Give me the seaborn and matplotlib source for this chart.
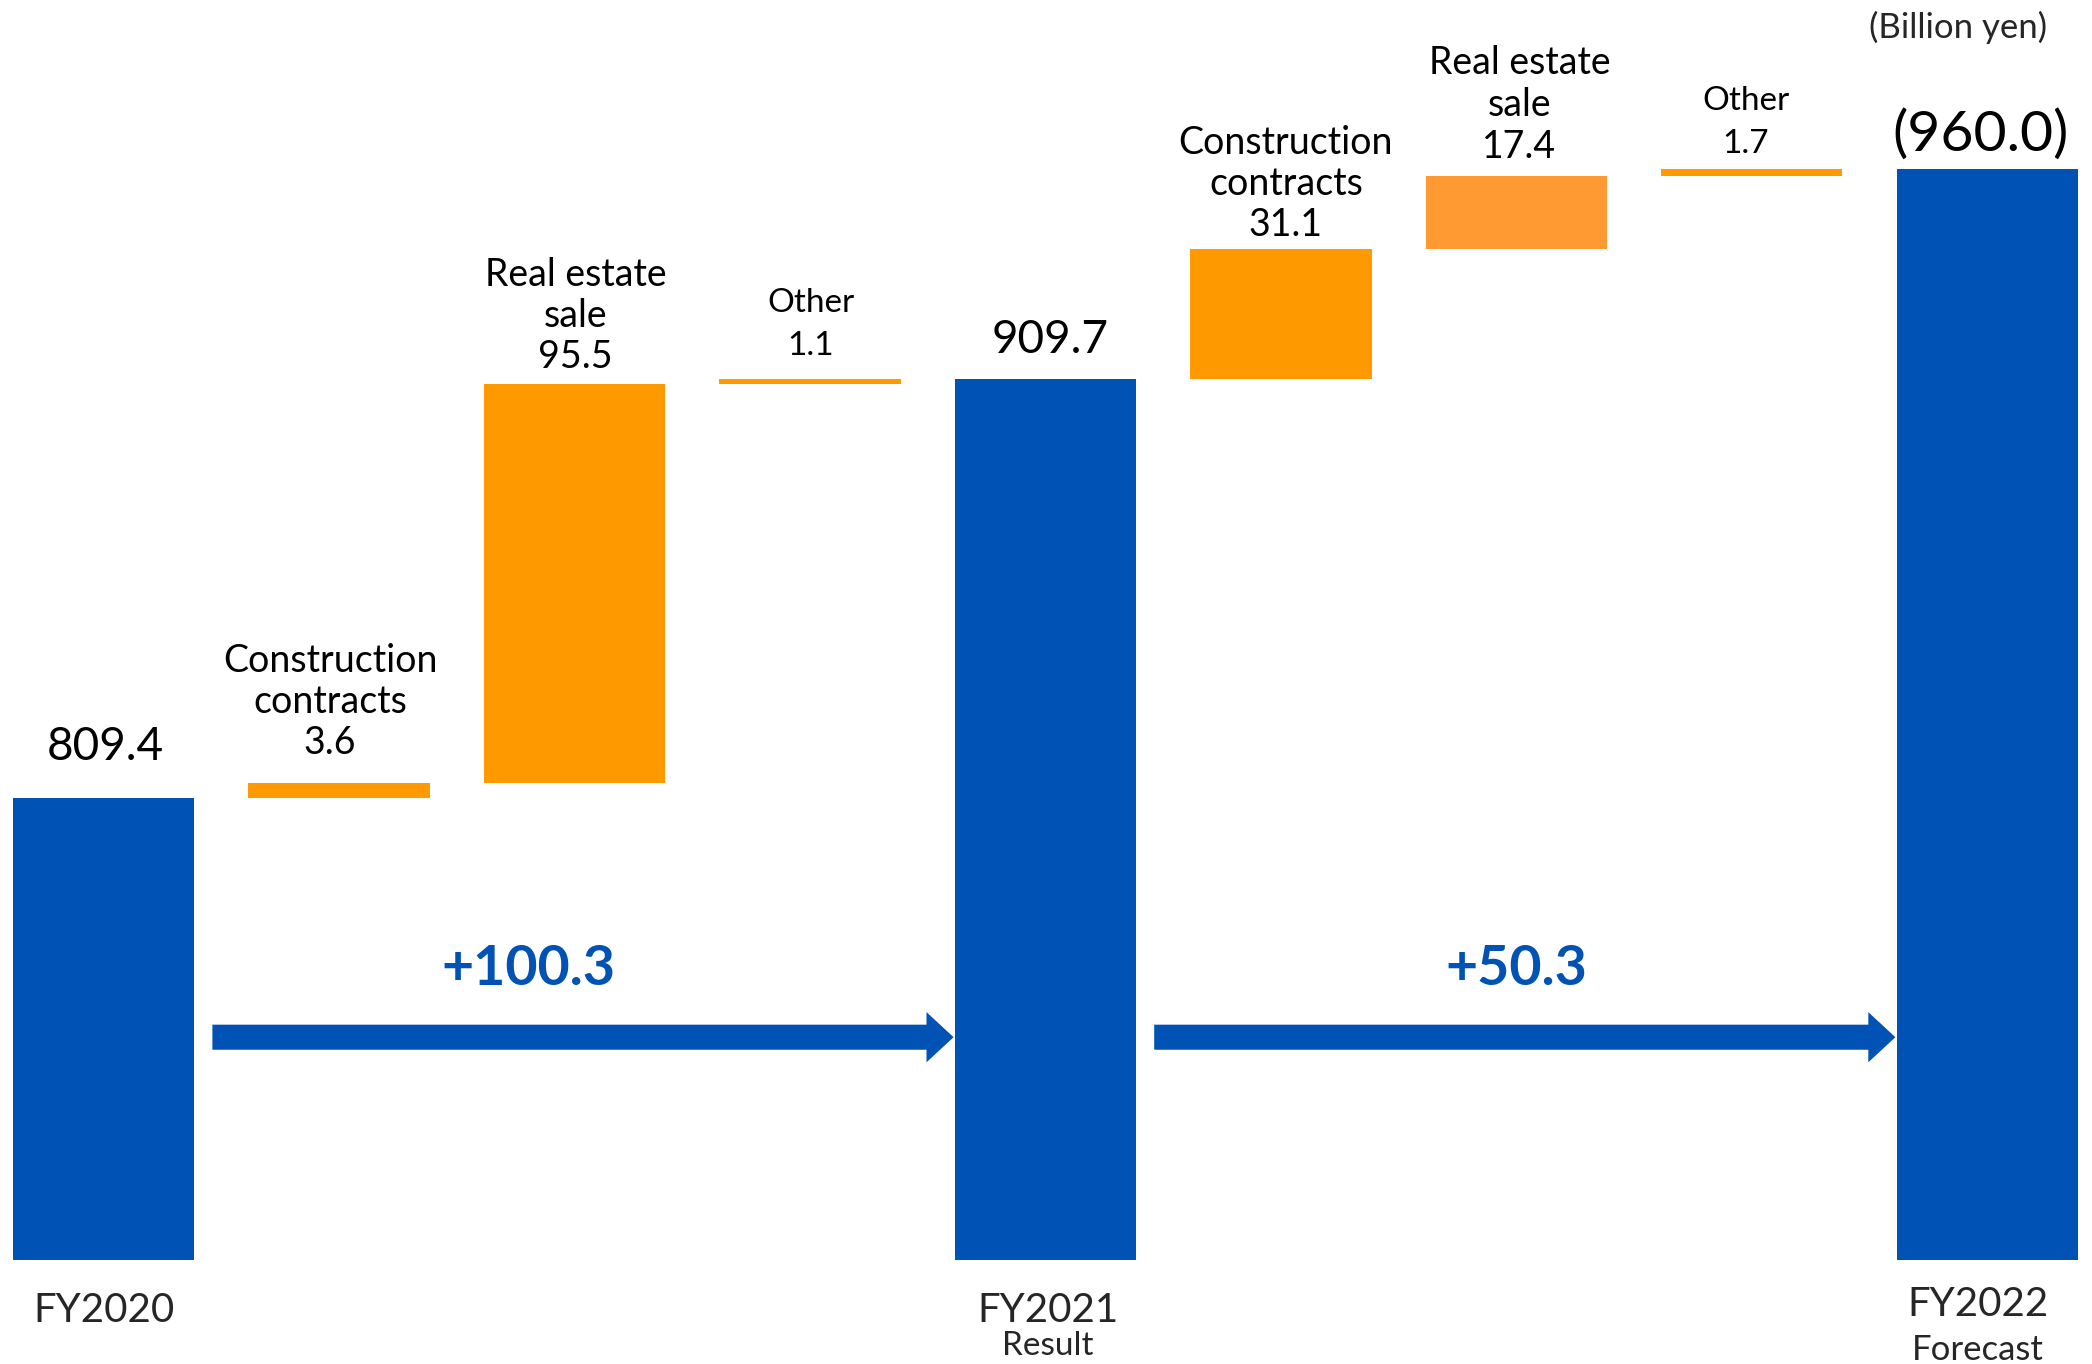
import matplotlib
matplotlib.use("Agg")
import matplotlib.pyplot as plt
import matplotlib.transforms as mtransforms
from matplotlib.patches import FancyArrow
import pandas as pd
import seaborn as sns

# Net sales bridge (billion yen)
total_names = ["FY2020", "FY2021", "FY2022"]
total_notes = ["", "Result", "Forecast"]
total_values = [809.4, 909.7, 960.0]
fy21_items = ["Construction\ncontracts", "Real estate\nsale", "Other"]
fy21_changes = [3.6, 95.5, 1.1]
fy22_items = ["Construction\ncontracts", "Real estate\nsale", "Other"]
fy22_changes = [31.1, 17.4, 1.7]
unit_text = "(Billion yen)"
axis_floor = 699.0

BLUE = "#0052B4"
ORANGE = "#FF9900"
ORANGE_SOFT = "#FF9A33"

# ---- assemble waterfall steps ----
steps = []
steps.append(dict(kind="total", name=total_names[0], low=axis_floor, high=total_values[0]))
level = total_values[0]
for name, d in zip(fy21_items, fy21_changes):
    steps.append(dict(kind="delta", name=name, low=level, high=level + d, value=d))
    level += d
steps.append(dict(kind="total", name=total_names[1], low=axis_floor, high=total_values[1]))
level = total_values[1]
for name, d in zip(fy22_items, fy22_changes):
    steps.append(dict(kind="delta", name=name, low=level, high=level + d, value=d))
    level += d
steps.append(dict(kind="total", name=total_names[2], low=axis_floor, high=total_values[2]))

df = pd.DataFrame(steps)
df["step"] = [f"s{i}" for i in range(len(df))]
df["height"] = df["high"] - df["low"]

bar_colors = [BLUE, ORANGE, ORANGE, ORANGE, BLUE, ORANGE, ORANGE_SOFT, ORANGE, BLUE]
BAR_W = 0.77

sns.set_style("white")
plt.rcParams["font.family"] = ["Lato", "DejaVu Sans"]

fig = plt.figure(figsize=(20.92, 13.64), dpi=100)
ax = fig.add_axes([0, 0, 1, 1])

sns.barplot(data=df, x="step", y="height", bottom=df["low"].values,
            width=BAR_W, color=BLUE, saturation=1, errorbar=None,
            linewidth=0, ax=ax)
for patch, c in zip(ax.patches, bar_colors):
    patch.set_facecolor(c)
    patch.set_edgecolor(c)

ax.set_xlim(-0.44, 8.445)
ax.set_ylim(674.0, 1000.4)
ax.axis("off")

# ---- labels above bars ----
# (lift of last line above bar top in px, horizontal nudge in px, line gap in px, size)
label_layout = {
    0: (55, 2, 0, 33),
    1: (44, -9, 41, 27),
    2: (31, 1, 41, 27),
    3: (36, 1, 43, 24),
    4: (43, 5, 0, 33),
    5: (28, 5, 41, 27),
    6: (33, 3, 42, 27),
    7: (28, -6, 43, 24),
    8: (39, -7, 0, 41),
}

for i, row in df.iterrows():
    lift, dx, gap, size = label_layout[i]
    if row["kind"] == "total":
        txt = f"{row['high']:.1f}"
        if i == len(df) - 1:
            txt = f"({row['high']:.1f})"
        lines = [txt]
    else:
        lines = row["name"].split("\n") + [f"{row['value']:.1f}"]
    n = len(lines)
    for k, line in enumerate(lines):
        ax.annotate(line, xy=(i, row["high"]), xytext=(dx, lift + (n - 1 - k) * gap),
                    textcoords="offset pixels", ha="center", va="center_baseline",
                    fontsize=size, color="black")

# ---- category names under totals ----
xb = mtransforms.blended_transform_factory(ax.transData, ax.transAxes)
total_idx = list(df.index[df["kind"] == "total"])
name_y = [0.042, 0.042, 0.046]
note_y = [0.0, 0.0157, 0.0125]
name_dx = [0.0, 0.01, -0.04]
for j, i in enumerate(total_idx):
    ax.text(i + name_dx[j], name_y[j], total_names[j], transform=xb,
            ha="center", va="center_baseline", fontsize=29)
    if total_notes[j]:
        ax.text(i + name_dx[j], note_y[j], total_notes[j], transform=xb,
                ha="center", va="center_baseline", fontsize=24 if j == 1 else 25)

ax.text(0.936, 0.982, unit_text, transform=ax.transAxes, ha="center",
        va="center_baseline", fontsize=25)

# ---- change arrows between totals ----
arrow_y = axis_floor + 53.2
label_dx = [-55, -8]
for j in range(2):
    a, b = total_idx[j], total_idx[j + 1]
    x0 = a + BAR_W / 2 + 0.077
    x1 = b - BAR_W / 2 - 0.005
    ax.add_patch(FancyArrow(x0, arrow_y, x1 - x0, 0, width=6.0,
                            head_width=12.0, head_length=0.115,
                            length_includes_head=True, color=BLUE, lw=0))
    change = total_values[j + 1] - total_values[j]
    ax.annotate(f"+{change:.1f}", xy=((x0 + x1) / 2, arrow_y),
                xytext=(label_dx[j], 73), textcoords="offset pixels",
                ha="center", va="center_baseline", fontsize=40,
                fontweight="bold", color=BLUE)

fig.savefig("out.png", dpi=100, facecolor="white")
